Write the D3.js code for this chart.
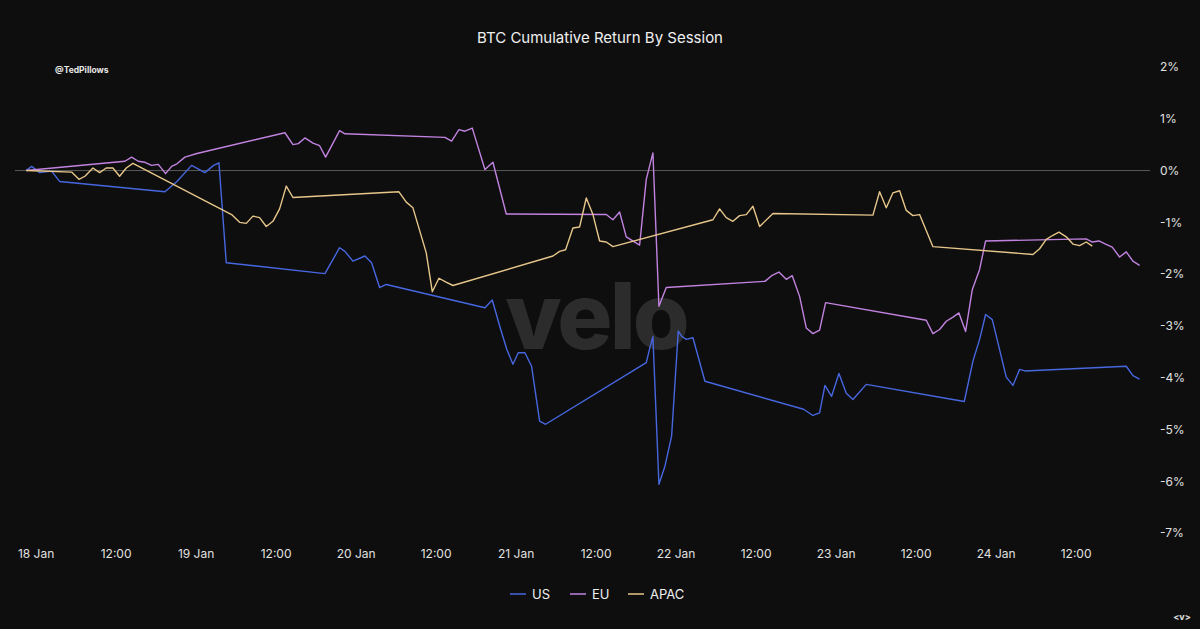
<!DOCTYPE html>
<html>
<head>
<meta charset="utf-8">
<script src="https://cdn.jsdelivr.net/npm/d3@7"></script>
<style>
  html, body { margin: 0; padding: 0; background: #0e0e0e; }
  svg { display: block; }
  text { font-family: Inter, "Open Sans", sans-serif; }
</style>
</head>
<body>
<svg id="chart" width="1200" height="629"></svg>
<script>
// ---- DATA (hours since 18 Jan 2025 00:00, cumulative return %) ----
const seriesNames = ["US", "EU", "APAC"];
const seriesColors = ["#4767e0", "#c283e0", "#e6c68a"];

const usData = [
  [-1.4,0],[-0.6,0.08],[0.6,-0.04],[2.4,-0.01],[3.6,-0.21],[19.4,-0.41],[21.2,-0.21],[23.4,0.10],
  [25.4,-0.04],[26.7,0.10],[27.5,0.15],[28.6,-1.78],[43.4,-1.99],[45.6,-1.49],[46.4,-1.56],
  [47.6,-1.75],[49.4,-1.65],[50.4,-1.78],[51.6,-2.26],[52.6,-2.20],[67.4,-2.65],[68.5,-2.50],
  [69.7,-3.04],[70.7,-3.46],[71.6,-3.74],[72.4,-3.52],[73.4,-3.52],[74.4,-3.78],[75.6,-4.84],
  [76.5,-4.90],[91.6,-3.71],[92.2,-3.39],[92.6,-3.21],[93.5,-6.06],[94.4,-5.71],[95.4,-5.13],
  [96.4,-3.10],[96.9,-3.20],[97.6,-3.26],[98.6,-3.23],[100.4,-4.07],[115.2,-4.61],[116.6,-4.73],
  [117.6,-4.68],[118.4,-4.15],[119.4,-4.36],[120.5,-3.92],[121.6,-4.30],[122.6,-4.42],[124.6,-4.13],
  [139.3,-4.46],[140.6,-3.68],[141.6,-3.26],[142.5,-2.78],[143.5,-2.88],[144.6,-3.46],[145.6,-3.99],
  [146.6,-4.15],[147.6,-3.84],[148.4,-3.87],[163.6,-3.78],[164.6,-3.96],[165.6,-4.03]
];

const euData = [
  [-1.4,0],[13.4,0.18],[14.4,0.26],[15.4,0.18],[16.4,0.16],[17.4,0.10],[18.4,0.12],[19.5,-0.06],
  [20.4,0.08],[21.2,0.13],[22.4,0.26],[24.2,0.33],[37.4,0.73],[38.6,0.50],[39.4,0.52],[40.4,0.63],
  [41.6,0.53],[42.6,0.48],[43.5,0.26],[45.6,0.77],[46.4,0.71],[61.4,0.64],[62.4,0.57],[63.5,0.79],
  [64.4,0.76],[65.5,0.82],[67.4,0.02],[68.6,0.16],[70.6,-0.84],[85.6,-0.85],[86.6,-0.95],
  [87.6,-0.80],[88.6,-1.28],[90.6,-1.44],[91.6,-0.17],[92.6,0.34],[93.5,-2.62],[94.6,-2.26],
  [109.4,-2.14],[110.4,-2.03],[111.5,-1.96],[112.6,-2.10],[113.5,-2.03],[114.6,-2.43],[115.6,-3.04],
  [116.6,-3.15],[117.6,-3.08],[118.5,-2.55],[133.6,-2.89],[134.6,-3.15],[135.6,-3.07],[136.6,-2.91],
  [137.6,-2.83],[138.5,-2.75],[139.5,-3.11],[140.5,-2.30],[141.6,-1.91],[142.5,-1.36],[157.6,-1.32],
  [158.5,-1.38],[159.5,-1.36],[160.5,-1.42],[161.5,-1.48],[162.6,-1.67],[163.6,-1.57],[164.6,-1.75],
  [165.6,-1.83]
];

const apacData = [
  [-1.4,0],[5.4,-0.03],[6.5,-0.17],[7.4,-0.11],[8.6,0.05],[9.6,-0.04],[10.6,0.05],[11.6,0.05],
  [12.6,-0.11],[13.6,0.05],[14.6,0.14],[29.4,-0.85],[30.6,-1.00],[31.6,-1.02],[32.6,-0.88],
  [33.6,-0.91],[34.6,-1.08],[35.6,-0.98],[36.6,-0.74],[37.6,-0.30],[38.6,-0.52],[54.5,-0.41],
  [55.6,-0.61],[56.6,-0.72],[58.6,-1.59],[59.5,-2.34],[60.5,-2.08],[61.5,-2.15],[62.6,-2.22],
  [77.6,-1.65],[78.6,-1.56],[79.5,-1.53],[80.6,-1.11],[81.6,-1.09],[82.6,-0.53],[83.6,-0.85],
  [84.6,-1.36],[85.6,-1.38],[86.6,-1.47],[101.6,-0.95],[102.6,-0.74],[103.6,-0.91],[104.6,-0.98],
  [105.6,-0.87],[106.6,-0.85],[107.6,-0.69],[108.6,-1.08],[110.6,-0.83],[125.6,-0.86],[126.6,-0.41],
  [127.6,-0.72],[128.6,-0.43],[129.6,-0.39],[130.6,-0.77],[131.6,-0.87],[132.6,-0.85],[134.6,-1.47],
  [149.6,-1.62],[150.6,-1.51],[151.6,-1.33],[152.6,-1.25],[153.5,-1.19],[154.6,-1.28],[155.6,-1.42],
  [156.6,-1.45],[157.6,-1.38],[158.5,-1.46]
];

const yTicks = [2, 1, 0, -1, -2, -3, -4, -5, -6, -7];
const titleText = "BTC Cumulative Return By Session";
const handleText = "@TedPillows";

// ---- CHART ----
const svg = d3.select("#chart");
const W = 1200, H = 629;
svg.append("rect").attr("width", W).attr("height", H).attr("fill", "#0e0e0e");

const t0 = new Date(2025, 0, 18, 0, 0);
const t1 = new Date(2025, 0, 25, 0, 0);
const toDate = h => new Date(t0.getTime() + h * 3600e3);

const x = d3.scaleTime().domain([t0, t1]).range([35.6, 35.6 + 7 * 160]);
const y = d3.scaleLinear().domain([-7, 2]).range([533, 67]);

// watermark
svg.append("text")
  .attr("x", 596).attr("y", 349)
  .attr("text-anchor", "middle")
  .attr("font-size", 92)
  .attr("font-weight", 800)
  .attr("letter-spacing", -3)
  .attr("fill", "#2c2c2c")
  .text("velo");

// title
svg.append("text")
  .attr("x", 600).attr("y", 43)
  .attr("text-anchor", "middle")
  .attr("font-size", 15)
  .attr("fill", "#f0f0f0")
  .text(titleText);

svg.append("text")
  .attr("x", 55).attr("y", 73)
  .attr("font-size", 8.5)
  .attr("font-weight", 700)
  .attr("fill", "#e8e8e8")
  .text(handleText);

// zero line
svg.append("line")
  .attr("x1", 15).attr("x2", 1150)
  .attr("y1", y(0)).attr("y2", y(0))
  .attr("stroke", "#5a5a5a").attr("stroke-width", 1);

// y axis (right)
const yAxis = d3.axisRight(y).tickValues(yTicks).tickSize(0).tickPadding(0)
  .tickFormat(d => d + "%");
const gy = svg.append("g").attr("transform", "translate(1160,0)").call(yAxis);
gy.select(".domain").remove();
gy.selectAll("text").attr("font-size", 12).attr("fill", "#e0e0e0")
  .attr("font-family", "Inter, 'Open Sans', sans-serif");

// x axis
const xTicks = d3.timeHour.every(12).range(t0, t1);
const xAxis = d3.axisBottom(x).tickValues(xTicks).tickSize(0).tickPadding(0)
  .tickFormat(d => d.getHours() === 0 ? d3.timeFormat("%-d %b")(d) : d3.timeFormat("%H:%M")(d));
const gx = svg.append("g").attr("transform", "translate(0,549)").call(xAxis);
gx.select(".domain").remove();
gx.selectAll("text").attr("font-size", 12).attr("fill", "#e0e0e0")
  .attr("font-family", "Inter, 'Open Sans', sans-serif");

// lines
const line = d3.line().x(d => x(toDate(d[0]))).y(d => y(d[1]));
const allData = [usData, euData, apacData];
allData.forEach((data, i) => {
  svg.append("path")
    .datum(data)
    .attr("fill", "none")
    .attr("stroke", seriesColors[i])
    .attr("stroke-width", 1.4)
    .attr("stroke-linejoin", "round")
    .attr("d", line);
});

// legend
const legendX = [510, 570, 628];
seriesNames.forEach((name, i) => {
  const g = svg.append("g").attr("transform", `translate(${legendX[i]},594)`);
  g.append("line").attr("x1", 0).attr("x2", 16).attr("y1", 0).attr("y2", 0)
    .attr("stroke", seriesColors[i]).attr("stroke-width", 1.5);
  g.append("text").attr("x", 22).attr("y", 5).attr("font-size", 13)
    .attr("fill", "#f0f0f0").text(name);
});

svg.append("text")
  .attr("x", 1182).attr("y", 620)
  .attr("text-anchor", "middle")
  .attr("font-size", 9)
  .attr("font-weight", 700)
  .attr("fill", "#e0e0e0")
  .text("<v>");
</script>
</body>
</html>
